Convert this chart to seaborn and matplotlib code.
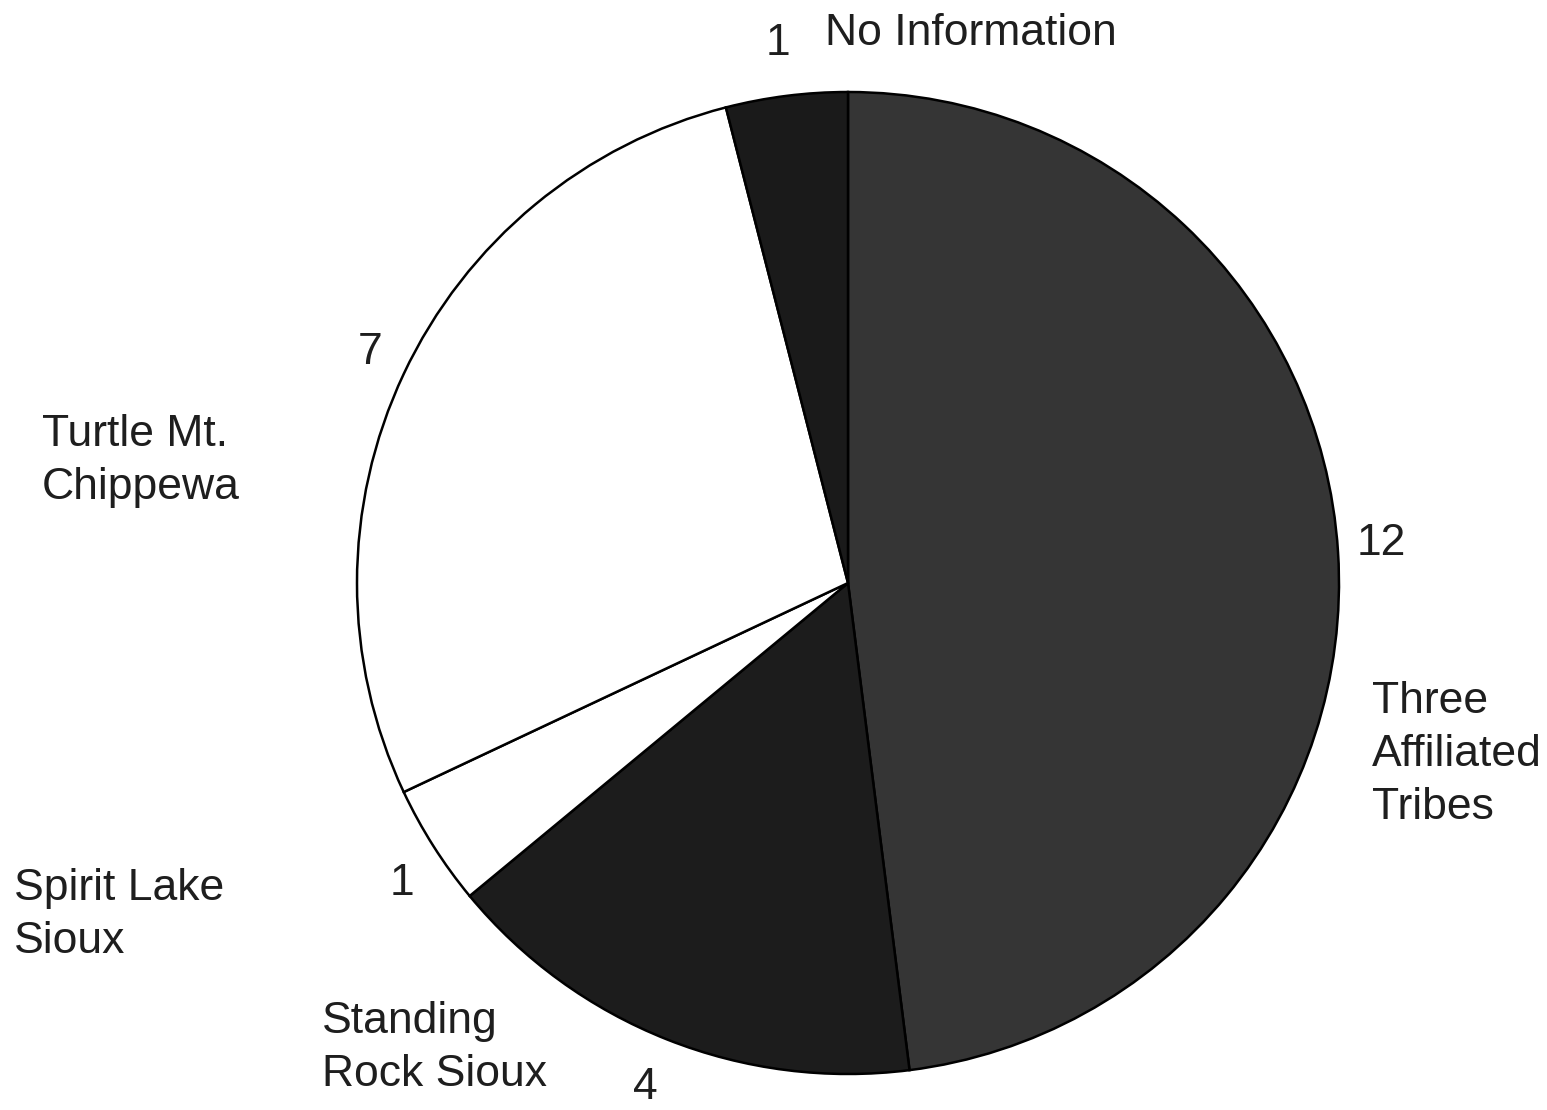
import matplotlib.pyplot as plt
import seaborn as sns

# datos del grafico (lectura de la imagen)
tribes = ["Three\nAffiliated\nTribes", "Standing\nRock Sioux", "Spirit Lake\nSioux",
          "Turtle Mt.\nChippewa", "No Information"]
counts = [12, 4, 1, 7, 1]
slice_colors = ["#353535", "#1c1c1c", "white", "white", "#1a1a1a"]

# posiciones de las etiquetas (fraccion de la figura)
count_pos = [(0.893, 0.510), (0.417, 0.020), (0.260, 0.204), (0.239, 0.682), (0.503, 0.961)]
name_pos = [(0.887, 0.320), (0.208, 0.056), (0.009, 0.176), (0.027, 0.585), (0.533, 0.970)]

sns.set_theme(style="white")
plt.rcParams['font.family'] = ['Liberation Sans', 'DejaVu Sans']

fig = plt.figure(figsize=(15.47, 11.10), dpi=100)
ax = fig.add_axes([0, 0, 1, 1])

cx, cy, r = 848, 583, 491
ax.pie(
    counts,
    colors=slice_colors,
    startangle=90,
    counterclock=False,
    radius=1,
    wedgeprops={"edgecolor": "black", "linewidth": 1.8},
)
ax.set_xlim(-cx / r, (1547 - cx) / r)
ax.set_ylim((cy - 1110) / r, cy / r)
ax.set_aspect("auto")
ax.axis("off")

for n, (x, y) in zip(counts, count_pos):
    ax.text(x, y, str(n), transform=ax.transAxes, ha="center", va="center",
            fontsize=32, color="#1e1e1e")

for name, (x, y) in zip(tribes, name_pos):
    ax.text(x, y, name, transform=ax.transAxes, ha="left", va="center",
            fontsize=32, color="#1e1e1e", linespacing=1.37)

fig.savefig("out.png", dpi=100, facecolor="white")
